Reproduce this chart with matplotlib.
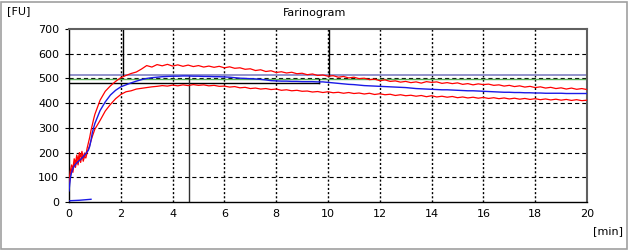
import numpy as np
import matplotlib
matplotlib.use("Agg")
import matplotlib.pyplot as plt
from matplotlib.patches import Rectangle

plt.rcParams['font.family'] = ['DejaVu Sans']
plt.rcParams['lines.scale_dashes'] = False

# ---------------- data ----------------
# sampling times [min]: fine start (0..1 step 0.05) then 1.2..20 step 0.2
time_start = np.round(np.arange(0, 1.0001, 0.05), 2)
time_main = np.round(np.arange(1.2, 20.0001, 0.2), 2)

upper_start = [70, 125, 150, 135, 175, 158, 190, 168, 200, 182,
               205, 178, 198, 188, 218, 240, 262, 290, 312, 335, 355]
upper_main = [412, 448, 470, 488, 503, 512, 520, 526, 538, 552,
              546, 556, 551, 557, 550, 555, 549, 554, 548, 552,
              546, 550, 545, 549, 543, 547, 541, 543, 537, 539,
              532, 535, 528, 531, 524, 527, 522, 525, 519, 521,
              515, 518, 512, 514, 509, 511, 505, 508, 502, 505,
              499, 501, 495, 497, 491, 494, 488, 490, 485, 488,
              483, 486, 481, 487, 484, 486, 480, 483, 479, 482,
              476, 479, 474, 478, 475, 477, 472, 474, 469, 472,
              467, 470, 465, 468, 463, 466, 461, 464, 459, 462,
              457, 461, 456, 459, 455]

lower_start = [60, 110, 135, 120, 160, 140, 175, 150, 185, 160,
               190, 165, 185, 178, 200, 215, 230, 248, 265, 280, 295]
lower_main = [330, 368, 395, 418, 435, 446, 450, 457, 460, 463,
              466, 468, 471, 469, 473, 470, 474, 471, 475, 472,
              474, 470, 472, 468, 469, 465, 467, 462, 464, 459,
              461, 457, 459, 455, 457, 452, 454, 450, 452, 448,
              449, 445, 447, 443, 446, 442, 444, 440, 443, 439,
              441, 437, 440, 435, 438, 434, 436, 431, 434, 430,
              432, 428, 431, 426, 430, 425, 428, 424, 427, 422,
              425, 421, 424, 420, 423, 419, 422, 418, 421, 417,
              420, 416, 419, 415, 418, 414, 417, 413, 416, 412,
              415, 411, 414, 410, 412]

median_start = [45, 95, 120, 135, 145, 152, 158, 163, 168, 172,
                178, 183, 190, 196, 203, 210, 225, 250, 280, 300, 318]
median_main = [370, 405, 433, 452, 466, 474, 482, 489, 495, 500,
               503, 505, 507, 508, 509, 509, 510, 510, 509, 509,
               508, 508, 507, 507, 506, 505, 503, 501, 500, 499,
               498, 496, 494, 491, 490, 489, 489, 488, 488, 487,
               487, 487, 486, 486, 484, 482, 480, 478, 476, 475,
               473, 471, 470, 469, 468, 467, 466, 465, 464, 463,
               461, 459, 458, 457, 456, 455, 454, 454, 453, 452,
               451, 450, 450, 449, 448, 447, 446, 445, 444, 444,
               443, 443, 442, 442, 441, 441, 440, 440, 440, 440,
               439, 439, 439, 439, 439]

baseline_time = [0.0, 0.4, 0.85]
baseline_vals = [5, 7, 11]

ref_upper = 513      # lavender line
ref_center = 498     # green line
ref_lower = 483      # black line
ref_lower_end = 9.66
vline_a = 2.1        # top -> ref_upper
vline_b = 4.65       # 0 -> 510
vline_c = 10.05      # top -> 510
vline_level = 510

xticks = list(range(0, 21, 2))
yticks = list(range(0, 701, 100))

# ---------------- figure ----------------
fig = plt.figure(figsize=(6.29, 2.5), dpi=100)
ax = fig.add_axes([69/629, 1-202/250, (587-69)/629, (202-29)/250])

t_all = np.concatenate([time_start, time_main])
upper = np.array(upper_start + upper_main)
lower = np.array(lower_start + lower_main)
median = np.array(median_start + median_main)

ax.set_xlim(0, 20)
ax.set_ylim(0, 700)
ax.set_xticks(xticks)
ax.set_yticks(yticks)

# grid
for yv in yticks[1:-1]:
    ax.axhline(yv, color='black', lw=0.8, dashes=(3.0, 2.2), zorder=1)
for xv in xticks[1:-1]:
    ax.axvline(xv, color='black', lw=1.0, dashes=(1.5, 1.5), zorder=1)

# reference lines
ax.axhline(ref_upper, color='#8a8ac8', lw=1.3, zorder=2)
ax.axhline(ref_center, color='#5aae5a', lw=1.0, zorder=2)
ax.plot([0, ref_lower_end], [ref_lower, ref_lower], color='black', lw=1.0, zorder=2)
ax.plot([ref_lower_end, ref_lower_end], [ref_lower, ref_center], color='black', lw=1.0, zorder=2)
ax.plot([vline_a, vline_a], [ref_upper, 700], color='black', lw=1.0, zorder=2)
ax.plot([vline_b, vline_b], [0, vline_level], color='#303030', lw=1.0, zorder=2)
ax.plot([vline_c, vline_c], [vline_level, 700], color='black', lw=1.0, zorder=2)

# curves
ax.plot(t_all, upper, color='#ff0000', lw=0.9, zorder=3)
ax.plot(t_all, lower, color='#ff0000', lw=0.9, zorder=3)
ax.plot(t_all, median, color='#1a1ae6', lw=1.0, zorder=4)
ax.plot(baseline_time, baseline_vals, color='#1a1ae6', lw=1.0, zorder=4)

# spines / ticks
for s in ['left', 'bottom']:
    ax.spines[s].set_color('black')
    ax.spines[s].set_linewidth(1.0)
for s in ['top', 'right']:
    ax.spines[s].set_color('#606060')
    ax.spines[s].set_linewidth(1.5)
ax.tick_params(axis='y', length=3, width=0.8, pad=4, labelsize=8, colors='black')
ax.tick_params(axis='x', length=0, pad=5, labelsize=8)

fig.text(7/629, 1-11/250, '[FU]', ha='left', va='center', fontsize=8)
fig.text(0.5, 1-13.5/250, 'Farinogram', ha='center', va='center', fontsize=8)
fig.text(623/629, 1-231/250, '[min]', ha='right', va='center', fontsize=8)

fig.patches.append(Rectangle((0.8/629, 1.5/250), 626/629, 247/250, transform=fig.transFigure,
                             fill=False, edgecolor='#a0a0a0', lw=1.2))

fig.savefig('out.png', dpi=100)
